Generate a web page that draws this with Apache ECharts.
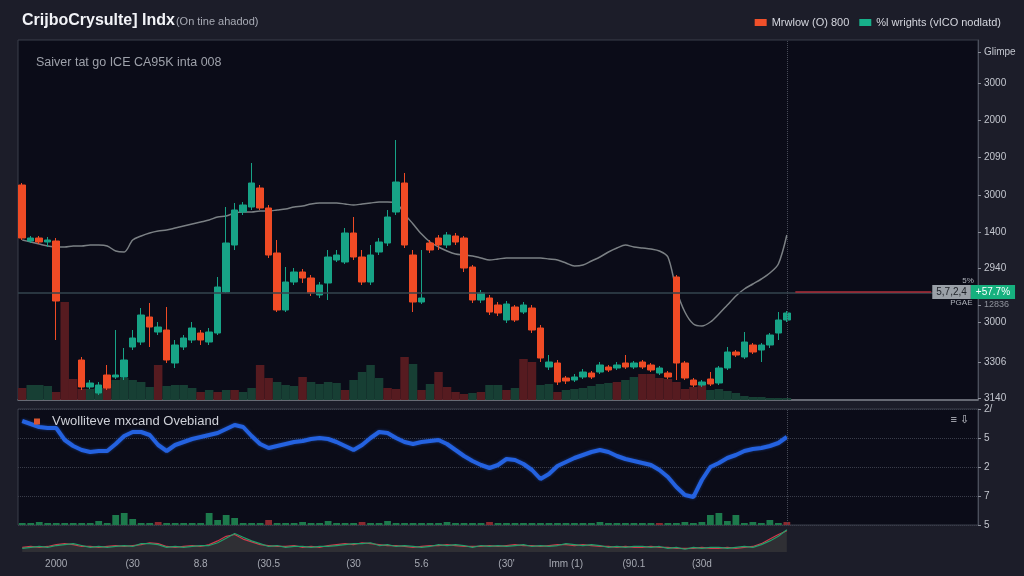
<!DOCTYPE html>
<html><head><meta charset="utf-8">
<script src="https://cdn.jsdelivr.net/npm/echarts@6/dist/echarts.min.js"></script>
<style>html,body{margin:0;padding:0;background:#1c1d29;}#c{width:1024px;height:576px;}</style>
</head><body><div id="c"></div>
<script>
// ---- data ----
const categoryCount = 113;
const xTickLabels = {4:'2000',13:'(30',21:'8.8',29:'(30.5',39:'(30',47:'5.6',57:"(30'",64:'Imm (1)',72:'(90.1',80:'(30d'};

const openP = [3315,3259,3262,3258,3259,'-','-',3140,3113,3107,
 3125,3123,3123,3153,3158,3183,3168,3170,3137,3153,
 3160,3167,3158,3167,3208,3255,3288,3293,3312,3292,
 3247,3190,3218,3228,3222,3205,3217,3240,3238,3267,
 3243,3218,3248,3257,3288,3317,3245,3198,3257,3262,
 3255,3264,3262,3233,3200,3202,3195,3180,3193,3188,
 3192,3172,3133,3137,3122,3120,3123,3127,3128,3133,
 3132,3137,3133,3138,3135,3127,3127,3223,3137,3120,
 3115,3121,3117,3132,3148,3143,3155,3150,3155,3167,
 3180];
const closeP = [3262,3262,3258,3260,3199,'-','-',3113,3117,3115,
 3112,3125,3140,3162,3185,3173,3173,3140,3155,3162,
 3172,3160,3168,3213,3257,3290,3295,3317,3292,3245,
 3190,3218,3228,3222,3207,3215,3243,3245,3267,3243,
 3218,3245,3258,3283,3318,3255,3198,3202,3250,3255,
 3265,3258,3232,3200,3207,3188,3187,3196,3180,3195,
 3170,3142,3138,3118,3119,3123,3128,3123,3135,3130,
 3135,3133,3137,3133,3130,3132,3123,3137,3122,3115,
 3118,3116,3132,3148,3145,3158,3148,3155,3165,3180,
 3187];
const lowP = [3260,3257,3256,3253,3160,'-','-',3110,3111,3105,
 3110,3121,3120,3150,3155,3153,3165,3137,3132,3150,
 3157,3155,3155,3165,3207,3250,3285,3290,3290,3242,
 3188,3188,3215,3217,3204,3202,3200,3238,3236,3240,
 3215,3215,3245,3254,3285,3252,3188,3196,3247,3250,
 3252,3255,3228,3197,3197,3185,3184,3177,3178,3186,
 3167,3138,3130,3115,3116,3118,3121,3121,3126,3128,
 3130,3131,3131,3131,3128,3125,3121,3120,3120,3113,
 3113,3114,3115,3130,3143,3141,3146,3138,3152,3160,
 3178];
const highP = [3317,3264,3264,3263,3262,'-','-',3143,3120,3118,
 3135,3170,3152,3170,3192,3197,3178,3193,3160,3165,
 3178,3170,3172,3223,3293,3297,3298,3337,3315,3295,
 3260,3233,3232,3231,3225,3218,3250,3250,3272,3283,
 3250,3255,3262,3290,3360,3327,3250,3250,3260,3265,
 3268,3267,3264,3235,3210,3205,3198,3199,3195,3198,
 3195,3175,3145,3140,3124,3126,3131,3129,3138,3135,
 3138,3145,3139,3140,3137,3134,3129,3225,3139,3122,
 3120,3128,3134,3153,3150,3168,3157,3157,3167,3188,
 3189];
const maLine = [3260,3258,3256,3254,3253,3253,3254,3254,3255,3255,
 3254,3249,3248,3260,3264,3267,3269,3270,3272,3274,
 3276,3278,3280,3283,3284,3287,3288,3288,3289,3289,
 3290,3291,3293,3294,3296,3297,3297,3297,3296,3295,
 3296,3297,3298,3298,3297,3286,3276,3266,3258,3253,
 3249,3246,3245,3244,3242,3240,3241,3242,3242,3242,
 3242,3242,3241,3240,3237,3234,3235,3239,3243,3248,
 3252,3255,3253,3252,3251,3249,3243,3210,3188,3176,
 3174,3178,3186,3195,3204,3211,3216,3221,3227,3236,
 3265];
const volume = [120,150,150,140,80,980,210,110,110,120,
 160,200,220,200,180,130,350,140,150,150,
 120,80,100,80,100,100,80,120,350,220,
 180,150,140,230,180,160,180,170,100,200,
 280,350,220,120,110,430,360,100,160,280,
 130,80,60,70,80,150,150,100,120,410,
 380,150,160,80,100,110,120,140,160,170,
 180,200,230,260,260,220,210,180,110,130,
 160,100,110,90,70,40,30,30,20,20,
 20];
const volRedIdx = [0,4,5,6,7,10,16,21,23,25,28,29,33,38,43,44,45,47,49,50,51,52,54,57,59,60,63,70,73,74,75,76,77,78,79,80];
const oscLine = [104,101,98,97,97,85,79,75,73,74,
 74,81,89,93,93,90,80,74,80,83,
 86,88,90,92,96,100,98,89,81,77,
 79,81,83,84,86,87,86,83,79,75,
 80,87,93,92,87,83,81,83,84,85,
 81,75,69,64,60,57,60,66,65,61,
 55,46,51,59,63,67,70,73,75,73,
 69,66,64,62,60,55,48,38,30,28,
 45,58,62,67,70,74,76,77,79,82,
 88];
const oscVol = [2,2,3,2,2,2,2,2,2,4,
 2,10,12,6,2,2,3,2,2,2,
 2,2,12,5,10,7,2,2,2,5,
 2,2,2,3,2,2,4,2,2,2,
 3,2,2,4,2,2,2,2,2,2,
 3,2,2,2,2,3,2,2,2,2,
 2,2,2,2,2,2,2,2,3,2,
 2,2,2,2,2,2,2,2,3,2,
 3,10,12,4,10,2,3,2,5,2,
 3];
const oscVolRedIdx = [16,29,40,55,75,90];
const navRed = [5,6,5,6,8,9,8,6,6,5,
 6,7,6,7,8,10,9,6,5,6,
 7,6,8,12,17,19,14,11,8,7,
 6,6,7,5,6,5,7,8,9,8,
 10,9,8,7,7,6,5,6,7,7,
 8,7,6,6,6,7,6,7,8,7,
 7,6,7,8,8,7,8,7,6,6,
 5,6,5,5,6,5,5,4,4,4,
 5,4,4,5,4,5,6,9,14,19,
 23];
const navGreen = [4,5,6,5,7,8,9,7,5,6,
 5,6,7,6,9,9,8,5,6,5,
 6,7,7,10,15,20,16,12,9,6,
 7,5,6,6,5,6,6,7,8,9,
 9,10,7,8,6,7,6,5,6,8,
 7,8,7,5,7,6,7,6,7,8,
 6,7,6,7,9,8,7,8,7,5,
 6,5,6,6,5,6,4,5,3,5,
 4,5,5,4,5,6,5,8,12,17,
 24];
const priceTickValues = [3102,3138,3178,3195,3232,3268,3305,3343,3380,3417,3448];
const priceTickLabels = ['3140','3306','3000','12836','2940','1400','3000','2090','2000','3000','Glimpe'];
const oscTickLabels = {0:'5',29:'7',58:'2',87:'5',116:'2/'};
const lastPrice = 3208;
const lastPriceLabel = '5,7,2,4';
const lastChangeLabel = '+57.7%';

// ---- build ----
const categories = Array.from({length: categoryCount}, (_, i) => String(i));
const candleData = openP.map((o, i) => o === '-' ? ['-','-','-','-'] : [o, closeP[i], lowP[i], highP[i]]);
const volData = volume.map((v, i) => ({value: v, itemStyle: {color: volRedIdx.includes(i) ? '#561b20' : '#173f34'}}));
const oscVolData = oscVol.map((v, i) => ({value: v, itemStyle: {color: oscVolRedIdx.includes(i) ? '#8a2a30' : '#1d7a4c'}}));

const chart = echarts.init(document.getElementById('c'), null, {renderer: 'canvas'});
const hiddenX = (g) => ({type:'category', gridIndex:g, data:categories, boundaryGap:true,
  axisLine:{show:false}, axisTick:{show:false}, axisLabel:{show:false}, splitLine:{show:false}});

chart.setOption({
  animation: false,
  backgroundColor: '#1c1d29',
  textStyle: {fontFamily: 'Liberation Sans, Arial, sans-serif'},
  title: [
    {left: 17, top: 8, text: '{a|CrijboCrysulte] Indx}{b|(On tine ahadod)}',
      textStyle: {rich: {
        a: {color:'#f2f3f7', fontSize:16, fontWeight:'bold', fontFamily:'Liberation Sans'},
        b: {color:'#a7aab4', fontSize:11, fontWeight:'normal', padding:[2,0,0,1], fontFamily:'Liberation Sans'}}}},
    {left: 31, top: 51, text: 'Saiver tat go ICE CA95K inta 008',
      textStyle: {color:'#9ea1aa', fontSize:12.5, fontWeight:'normal', fontFamily:'Liberation Sans'}},
    {left: 29, top: 410, text: '{i|}{t|Vwolliteve mxcand Ovebiand}',
      textStyle: {rich: {
        i: {backgroundColor:'#d9542f', width:6, height:6},
        t: {color:'#cfd1d8', fontSize:13, fontWeight:'normal', padding:[0,0,0,12], fontFamily:'Liberation Sans'}}}},
    {right: 50, top: 409, text: '≡ ⇩', textStyle: {color:'#c4c6ce', fontSize:11, fontWeight:'normal'}}
  ],
  legend: {
    top: 12, right: 18, itemWidth: 12, itemHeight: 7, itemGap: 10,
    textStyle: {color:'#d4d6de', fontSize: 11},
    data: [
      {name:'Mrwlow (O) 800', icon:'rect', itemStyle:{color:'#f0502a', borderWidth:0}},
      {name:'%l wrights (vICO nodlatd)', icon:'rect', itemStyle:{color:'#17b08a', borderWidth:0}}
    ]
  },
  grid: [
    {left: 18, top: 40, width: 960, height: 360, show: true, backgroundColor: '#0b0c18', borderColor: '#3b3e4a', borderWidth: 1},
    {left: 18, top: 409, width: 960, height: 116, show: true, backgroundColor: '#0b0c18', borderColor: '#3b3e4a', borderWidth: 1},
    {left: 18, top: 528, width: 960, height: 24, show: false}
  ],
  xAxis: [
    Object.assign(hiddenX(0), {axisLine:{show:true, lineStyle:{color:'#7c7f88', width:1.5}}}),
    hiddenX(1),
    Object.assign(hiddenX(2), {axisLabel:{show:true, interval:0, color:'#a6a9b2', fontSize:10, margin:7,
      formatter: (v) => xTickLabels[Number(v)] || ''}})
  ],
  yAxis: [
    {type:'value', gridIndex:0, position:'right', min:3100, max:3460,
      axisLine:{show:true, lineStyle:{color:'#4b4f5c'}},
      axisTick:{show:true, length:3, customValues: priceTickValues, lineStyle:{color:'#8a8e99'}},
      axisLabel:{customValues: priceTickValues, color:'#c3c6ce', fontSize:10, margin:6,
        formatter: (v) => { const k = priceTickValues.indexOf(v); const s = k < 0 ? '' : priceTickLabels[k]; return v === 3195 ? '{s|' + s + '}' : s; },
        rich: {s: {color:'#8f939c', fontSize:9}}},
      splitLine:{show:false}},
    {type:'value', gridIndex:0, min:0, max:3600, show:false},
    {type:'value', gridIndex:1, position:'right', min:0, max:116, interval:29,
      axisLine:{show:true, lineStyle:{color:'#4b4f5c'}},
      axisTick:{show:true, length:3, lineStyle:{color:'#8a8e99'}},
      axisLabel:{color:'#c3c6ce', fontSize:10, margin:6, formatter: (v) => oscTickLabels[v] || ''},
      splitLine:{show:true, lineStyle:{type:'dotted', color:'#3a3d4a'}}},
    {type:'value', gridIndex:1, min:0, max:116, show:false},
    {type:'value', gridIndex:2, min:0, max:26, show:false}
  ],
  series: [
    {type:'bar', name:'vol', xAxisIndex:0, yAxisIndex:1, data: volData, barWidth:'100%', z:1, silent:true},
    {type:'line', name:'%l wrights (vICO nodlatd)', xAxisIndex:0, yAxisIndex:0, data: maLine, smooth:0.3,
      showSymbol:false, symbol:'none', lineStyle:{color:'#7b8084', width:1.5}, itemStyle:{color:'#17b08a'}, z:2},
    {type:'candlestick', name:'Mrwlow (O) 800', xAxisIndex:0, yAxisIndex:0, data: candleData, barWidth: 7, z:3,
      itemStyle:{color:'#17a386', color0:'#ef4b25', borderColor:'#17a386', borderColor0:'#ef4b25', borderWidth:1},
      markLine: {
        silent: true, symbol:['none','none'], label:{show:false},
        data: [
          {yAxis: 3207, lineStyle:{color:'#34444e', width:1.5, type:'solid'}},
          {xAxis: 90, lineStyle:{color:'#474b57', width:1, type:'dotted'}},
          [{coord:[91, lastPrice], lineStyle:{color:'#b02e38', width:1.5, type:'solid'},
            label:{show:true, position:'end', distance:1,
              formatter: '{s|5%}\n{g|' + lastPriceLabel + '}{t|' + lastChangeLabel + '}\n{p|PGAE}',
              rich:{
                s:{fontSize:8, color:'#aeb2ba', padding:[0,0,0,30], lineHeight:9},
                g:{backgroundColor:'#9aa0a8', color:'#1d2027', fontSize:10, padding:[2,4,2,4], lineHeight:13},
                t:{backgroundColor:'#16b07e', color:'#ffffff', fontSize:10, padding:[2,5,2,5], lineHeight:13},
                p:{fontSize:8, color:'#aeb2ba', padding:[0,0,0,18], lineHeight:9}
              }}},
           {coord:[107, lastPrice]}]
        ]
      }},
    {type:'bar', name:'oscvol', xAxisIndex:1, yAxisIndex:3, data: oscVolData, barWidth:'80%', silent:true},
    {type:'line', name:'osc', xAxisIndex:1, yAxisIndex:2, data: oscLine, showSymbol:false, symbol:'none',
      lineStyle:{color:'#2462e0', width:4, shadowColor:'rgba(36,98,224,0.5)', shadowBlur:3},
      markLine:{silent:true, symbol:['none','none'], label:{show:false},
        data:[{xAxis: 90, lineStyle:{color:'#474b57', width:1, type:'dotted'}}]}},
    {type:'line', name:'navR', xAxisIndex:2, yAxisIndex:4, data: navRed, showSymbol:false, symbol:'none',
      lineStyle:{color:'#cf3a4c', width:1.2}, areaStyle:{color:'rgba(160,40,60,0.25)'}},
    {type:'line', name:'navG', xAxisIndex:2, yAxisIndex:4, data: navGreen, showSymbol:false, symbol:'none',
      lineStyle:{color:'#22a06b', width:1.2}, areaStyle:{color:'rgba(30,130,90,0.25)'}}
  ]
});
</script>
</body></html>
